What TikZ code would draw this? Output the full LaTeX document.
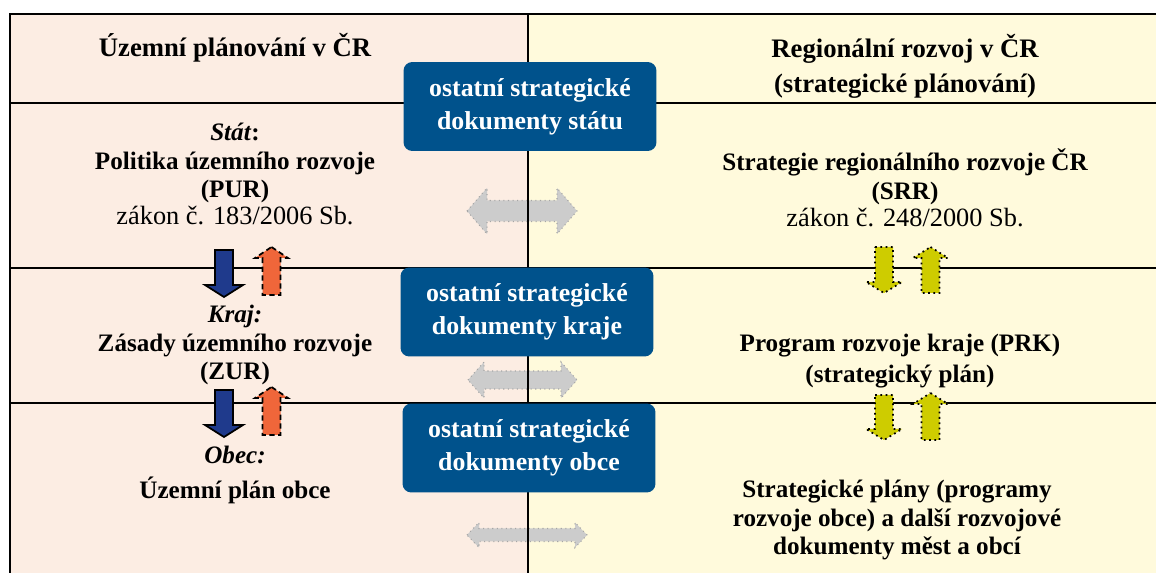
\documentclass[tikz,border=0pt]{standalone}
\usepackage{fontspec}
\setmainfont{Liberation Serif}
\definecolor{leftbg}{RGB}{252,237,227}
\definecolor{rightbg}{RGB}{255,250,220}
\definecolor{docblue}{RGB}{0,82,140}
\definecolor{arrblue}{RGB}{31,58,140}
\definecolor{arrorange}{RGB}{240,102,58}
\definecolor{arryellow}{RGB}{206,204,0}
\definecolor{arrgray}{RGB}{204,204,204}
\newcommand{\lawfont}{\mdseries\fontsize{15}{16.5}\selectfont}
\tikzset{>=stealth,
    docbox/.style={fill=docblue, rounded corners=5pt, text=white, align=center, inner sep=0pt,
        font=\bfseries\fontsize{14.7}{18.7}\selectfont, minimum width=5.06cm, minimum height=1.78cm},
    coltext/.style={align=center, font=\bfseries\fontsize{14.3}{16.4}\selectfont},
    colhead/.style={align=center, font=\bfseries\fontsize{15.2}{19.8}\selectfont},
    sepline/.style={line width=1.5pt},
    bluearrow/.style={fill=arrblue, draw=black, line width=1pt},
    orangearrow/.style={fill=arrorange, draw=black, line width=1pt, dash pattern=on 3pt off 2pt},
    yellowarrow/.style={fill=arryellow, draw=black, line width=1pt, dotted},
    grayarrow/.style={fill=arrgray, draw=gray!70, line width=0.6pt, dotted},
}
\newcommand{\arrdown}[7]{\path[#1] ({#2-#4},#3) -- ({#2+#4},#3) -- ({#2+#4},#6) -- ({#2+#5},#6)
    -- (#2,#7) -- ({#2-#5},#6) -- ({#2-#4},#6) -- cycle;}
\newcommand{\arrup}[7]{\path[#1] (#2,#3) -- ({#2+#5},#6) -- ({#2+#4},#6) -- ({#2+#4},#7)
    -- ({#2-#4},#7) -- ({#2-#4},#6) -- ({#2-#5},#6) -- cycle;}
\newcommand{\arrboth}[6]{\path[grayarrow] (#1,#3) -- ({#1+#4},{#3-#5}) -- ({#1+#4},{#3-#6})
    -- ({#2-#4},{#3-#6}) -- ({#2-#4},{#3-#5}) -- (#2,#3) -- ({#2-#4},{#3+#5})
    -- ({#2-#4},{#3+#6}) -- ({#1+#4},{#3+#6}) -- ({#1+#4},{#3+#5}) -- cycle;}

\begin{document}
\begin{tikzpicture}[x=0.02cm, y=-0.02cm]
    \pgfmathsetmacro{\midx}{528}
    \pgfmathsetmacro{\leftx}{10}
    \pgfmathsetmacro{\topy}{14}
    \useasboundingbox (0,0) rectangle (1156,573);
    \clip (0,0) rectangle (1156,573);
    \fill[leftbg] (\leftx,\topy) rectangle (\midx,600);
    \fill[rightbg] (\midx,\topy) rectangle (1170,600);

    \arrboth{467}{577}{211}{20}{23}{10.5}
    \arrboth{468}{577}{380}{16}{18}{9}
    \arrboth{467}{587}{535}{12}{12.5}{6.5}

    \draw[sepline] (\leftx,600) -- (\leftx,\topy) -- (1170,\topy);
    \foreach \y in {103,268,403}
        \draw[sepline] (\leftx,\y) -- (1170,\y);
    \draw[sepline] (\midx,\topy) -- (\midx,600);

    \arrdown{bluearrow}{224}{250}{9}{19}{285}{297}
    \arrdown{bluearrow}{224}{390}{9}{19}{425}{437}
    \arrup{orangearrow}{271.5}{247}{9}{16.5}{258}{295}
    \arrup{orangearrow}{271.5}{387}{9}{16.5}{398}{435}
    \arrdown{yellowarrow}{884}{247}{9}{18}{282}{293}
    \arrdown{yellowarrow}{884}{395}{9}{18}{429}{440}
    \arrup{yellowarrow}{930.5}{247}{9}{17.5}{258}{293}
    \arrup{yellowarrow}{930.5}{393}{9}{17.5}{404}{440}

    \node[docbox] (docstat) at (530,106.5) {ostatní strategické\\dokumenty státu};
    \node[docbox] (dockraj) at (527,312) {ostatní strategické\\dokumenty kraje};
    \node[docbox] (docobec) at (529,448) {ostatní strategické\\dokumenty obce};

    \node[colhead] (lefthead) at (235,48) {Územní plánování v ČR};
    \node[colhead] (righthead) at (905,66) {Regionální rozvoj v ČR\\(strategické plánování)};

    \node[coltext] (stat) at (235,174) {\textit{Stát}:\\Politika územního rozvoje\\(PUR)\\[-1pt]
        {\lawfont zákon č. 183/2006 Sb.}};
    \node[coltext] (srr) at (905,188) {Strategie regionálního rozvoje ČR\\(SRR)\\[-1pt]
        {\lawfont zákon č. 248/2000 Sb.}};
    \node[coltext] (kraj) at (235,345) {\textit{Kraj:}\\Zásady územního rozvoje\\(ZUR)};
    \node[coltext] (prk) at (900,361) {Program rozvoje kraje (PRK)\\[1pt](strategický plán)};
    \node[coltext] (obec) at (235,475) {\textit{Obec:}\\[3pt]Územní plán obce};
    \node[coltext] (obceplans) at (897,520) {Strategické plány (programy\\rozvoje obce) a další rozvojové\\
        dokumenty měst a obcí};
\end{tikzpicture}
\end{document}
